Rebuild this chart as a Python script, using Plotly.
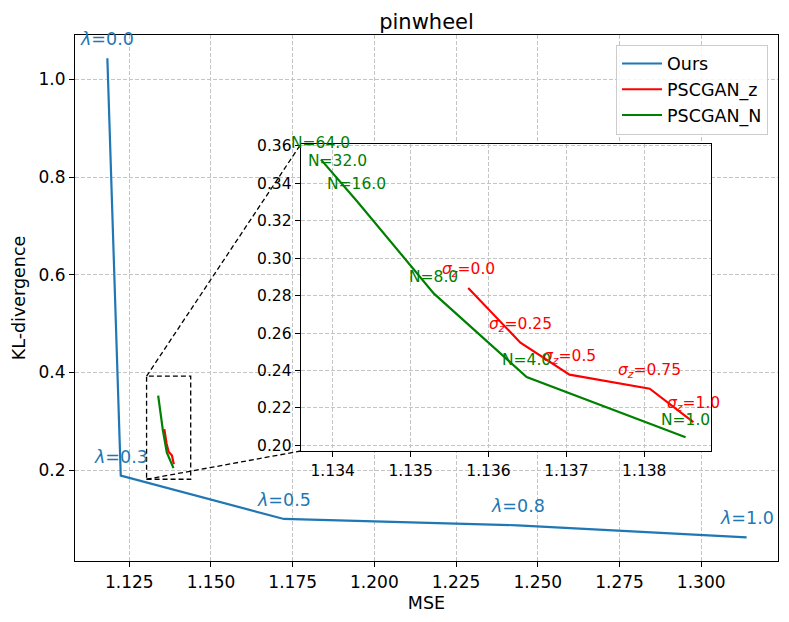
import plotly.graph_objects as go

# ===== DATA =====
ours_lambda = [0.0, 0.3, 0.5, 0.8, 1.0]
ours_mse = [1.1183, 1.1224, 1.1723, 1.2438, 1.3139]
ours_kl = [1.043, 0.189, 0.1003, 0.0874, 0.0628]

psc_z_sigma = [0.0, 0.25, 0.5, 0.75, 1.0]
psc_z_mse = [1.13574, 1.13641, 1.13704, 1.13807, 1.13863]
psc_z_kl = [0.2841, 0.2549, 0.2378, 0.2303, 0.2125]

psc_n_N = [64.0, 32.0, 16.0, 8.0, 4.0, 1.0]
psc_n_mse = [1.13385, 1.13406, 1.13431, 1.13530, 1.13649, 1.13853]
psc_n_kl = [0.3527, 0.3427, 0.3306, 0.2811, 0.2365, 0.2044]

# zoom window drawn in the main axes
zoom_x = [1.1303, 1.1438]
zoom_y = [0.1816, 0.3925]

# ===== STYLE =====
BLUE = "#1f77b4"
RED = "#ff0000"
GREEN = "#008000"
FONT = "DejaVu Sans"
GRID = "#c4c4c4"

main_xr = [1.1084, 1.3235]
main_yr = [0.0143, 1.0907]
inset_xr = [1.13359, 1.13886]
inset_yr = [0.197, 0.3609]
inset_dx = [0.3211, 0.9051]
inset_dy = [0.2091, 0.7922]

# page body adds an 8px offset, so the figure is 8px smaller
W, H = 781, 614

fig = go.Figure()

fig.add_trace(go.Scatter(x=ours_mse, y=ours_kl, mode="lines", name="Ours",
                         line=dict(color=BLUE, width=2.2)))
fig.add_trace(go.Scatter(x=psc_z_mse, y=psc_z_kl, mode="lines", name="PSCGAN_z",
                         line=dict(color=RED, width=2.2)))
fig.add_trace(go.Scatter(x=psc_n_mse, y=psc_n_kl, mode="lines", name="PSCGAN_N",
                         line=dict(color=GREEN, width=2.2)))

# inset copies
fig.add_trace(go.Scatter(x=psc_z_mse, y=psc_z_kl, mode="lines", showlegend=False,
                         line=dict(color=RED, width=2.2), xaxis="x2", yaxis="y2"))
fig.add_trace(go.Scatter(x=psc_n_mse, y=psc_n_kl, mode="lines", showlegend=False,
                         line=dict(color=GREEN, width=2.2), xaxis="x2", yaxis="y2"))

annotations = []
for lam, xv, yv in zip(ours_lambda, ours_mse, ours_kl):
    annotations.append(dict(x=xv, y=yv, xref="x", yref="y", text=f"<i>λ</i>={lam}",
                            showarrow=False, xanchor="center", yanchor="bottom", yshift=7,
                            font=dict(color=BLUE, size=17.5, family=FONT)))
for s, xv, yv in zip(psc_z_sigma, psc_z_mse, psc_z_kl):
    annotations.append(dict(x=xv, y=yv, xref="x2", yref="y2",
                            text=f"<i>σ</i><sub><i>z</i></sub>={s}",
                            showarrow=False, xanchor="center", yanchor="bottom", yshift=6,
                            font=dict(color=RED, size=15.5, family=FONT)))
for n, xv, yv in zip(psc_n_N, psc_n_mse, psc_n_kl):
    annotations.append(dict(x=xv, y=yv, xref="x2", yref="y2", text=f"N={n}",
                            showarrow=False, xanchor="center", yanchor="bottom", yshift=6,
                            font=dict(color=GREEN, size=15.5, family=FONT)))

# helpers to place inset corners in main data coordinates
def to_main_x(p):
    return main_xr[0] + p * (main_xr[1] - main_xr[0])

def to_main_y(p):
    return main_yr[0] + p * (main_yr[1] - main_yr[0])

dash = dict(color="black", width=1.3, dash="5px,3px")
shapes = [
    # white background for the inset
    dict(type="rect", xref="x2 domain", yref="y2 domain", x0=0, x1=1, y0=0, y1=1,
         fillcolor="white", line=dict(width=0), layer="below"),
    dict(type="rect", xref="x", yref="y", x0=zoom_x[0], x1=zoom_x[1],
         y0=zoom_y[0], y1=zoom_y[1], line=dash),
    dict(type="line", xref="x", yref="y", x0=zoom_x[0], y0=zoom_y[1],
         x1=to_main_x(inset_dx[0]), y1=to_main_y(inset_dy[1]), line=dash),
    dict(type="line", xref="x", yref="y", x0=zoom_x[0], y0=zoom_y[0],
         x1=to_main_x(inset_dx[0]), y1=to_main_y(inset_dy[0]), line=dash),
]

axis_common = dict(showline=True, mirror=True, linecolor="black", linewidth=1.2,
                   ticks="outside", ticklen=5, tickcolor="black", showgrid=True,
                   gridcolor=GRID, griddash="4px,2px", gridwidth=1, zeroline=False)

fig.update_layout(
    width=W, height=H,
    margin=dict(l=65, r=10, t=27, b=61),
    plot_bgcolor="white", paper_bgcolor="white",
    font=dict(family=FONT, size=17, color="black"),
    title=dict(text="pinwheel", x=0.5, xref="paper", xanchor="center",
               y=1 - 13.5 / H, yanchor="middle", font=dict(size=21)),
    xaxis=dict(range=main_xr, tickvals=[1.125, 1.15, 1.175, 1.2, 1.225, 1.25, 1.275, 1.3],
               tickformat=".3f", title=dict(text="MSE", standoff=6, font=dict(size=17.5)),
               tickfont=dict(size=17), **axis_common),
    yaxis=dict(range=main_yr, tickvals=[0.2, 0.4, 0.6, 0.8, 1.0], tickformat=".1f",
               title=dict(text="KL-divergence", standoff=8, font=dict(size=17.5)),
               tickfont=dict(size=17), **axis_common),
    xaxis2=dict(domain=inset_dx, anchor="y2", range=inset_xr, dtick=0.001, tick0=1.134,
                tickformat=".3f", tickfont=dict(size=15.5), **axis_common),
    yaxis2=dict(domain=inset_dy, anchor="x2", range=inset_yr, dtick=0.02, tick0=0.2,
                tickformat=".2f", tickfont=dict(size=15.5), **axis_common),
    legend=dict(x=0.9858, xanchor="right", y=0.9817, yanchor="top",
                bgcolor="rgba(255,255,255,0.85)", bordercolor="#cccccc", borderwidth=1,
                font=dict(size=17.5), itemwidth=40),
    annotations=annotations,
    shapes=shapes,
    showlegend=True,
)

fig.write_html("out.html")
